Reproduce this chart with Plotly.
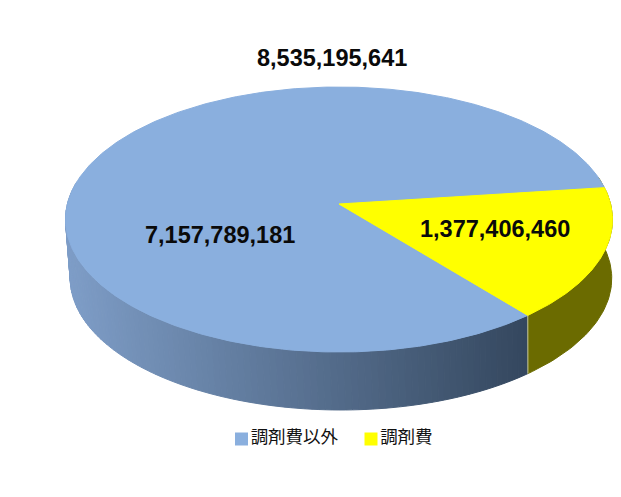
import numpy as np
import plotly.graph_objects as go

# Data
categories = ["調剤費以外", "調剤費"]
values = [7157789181, 1377406460]
colors_top = ["#8AAFDE", "#FFFF00"]
color_yellow_side = "#6B6B00"
total = sum(values)

# Perspective model of the tilted disc (pixel canvas)
APEX_X, APEX_Y = 339, 204
PERSP, SCALE_Y, SCALE_X = 0.117, 130.7, 271.6
DEPTH, BOTTOM_X, BOTTOM_Y, BOTTOM_SHIFT = 59, 0.99, 0.993, 2
START_DEG = 7.3  # yellow slice starts here and runs clockwise


def project(theta_deg, bottom=False):
    t = np.radians(theta_deg)
    u, v = np.cos(t), np.sin(t)
    w = 1 + PERSP * v
    x, y = SCALE_X * u / w, SCALE_Y * v / w
    if bottom:
        return APEX_X + BOTTOM_SHIFT + x * BOTTOM_X, APEX_Y + DEPTH - y * BOTTOM_Y
    return APEX_X + x, APEX_Y - y


def lerp_color(f):
    left, right = (126, 157, 199), (52, 71, 94)
    c = [round(a + (b - a) * f) for a, b in zip(left, right)]
    return f"rgb({c[0]},{c[1]},{c[2]})"


yellow_sweep = values[1] / total * 360
yellow_start = START_DEG
yellow_end = START_DEG - yellow_sweep  # clockwise

fig = go.Figure()


def poly(xs, ys, fill, line=None, width=1):
    fig.add_trace(go.Scatter(
        x=list(xs), y=list(ys), mode="lines", fill="toself", fillcolor=fill,
        line=dict(color=line or fill, width=width), hoverinfo="skip", showlegend=False))


# Side wall: visible front half, blue part shaded across the width
wall_angles = np.linspace(-190, yellow_end, 110)
x_min, x_max = project(180)[0], project(yellow_end)[0]
for a0, a1 in zip(wall_angles[:-1], wall_angles[1:]):
    x0, y0 = project(a0)
    x1, y1 = project(a1)
    x2, y2 = project(a1, True)
    x3, y3 = project(a0, True)
    f = np.clip((((x0 + x1) / 2) - x_min) / (x_max - x_min), 0, 1)
    poly([x0, x1, x2, x3, x0], [y0, y1, y2, y3, y0], lerp_color(f))

ys_ang = np.linspace(yellow_end, 12, 50)
tx, ty = project(ys_ang)
bx, by = project(ys_ang, True)
poly(np.r_[tx, bx[::-1]], np.r_[ty, by[::-1]], color_yellow_side)

# Light seam where the two wall colours meet
sx0, sy0 = project(yellow_end)
sx1, sy1 = project(yellow_end, True)
fig.add_trace(go.Scatter(x=[sx0, sx1], y=[sy0, sy1], mode="lines",
                         line=dict(color="#C9C99A", width=1), hoverinfo="skip", showlegend=False))

# Top face
blue_ang = np.linspace(yellow_start, yellow_start + values[0] / total * 360, 400)
bx_top, by_top = project(blue_ang)
poly(np.r_[APEX_X, bx_top, APEX_X], np.r_[APEX_Y, by_top, APEX_Y], colors_top[0])

yel_ang = np.linspace(yellow_end, yellow_start, 100)
yx_top, yy_top = project(yel_ang)
poly(np.r_[APEX_X, yx_top, APEX_X], np.r_[APEX_Y, yy_top, APEX_Y], colors_top[1])

# Legend entries
legend_x = [241.5, 371]
LEGEND_Y = 439
for name, col, lx in zip(categories, colors_top, legend_x):
    fig.add_trace(go.Scatter(
        x=[lx], y=[LEGEND_Y], mode="markers+text", text=[name], textposition="middle right",
        textfont=dict(family="Noto Sans CJK JP, sans-serif", size=17.5, color="#111111"),
        marker=dict(symbol="square", size=13, color=col), hoverinfo="skip", showlegend=False))

LABEL_FONT = dict(family="Liberation Sans, sans-serif", size=23.5, color="#0A0A0A")
annotations = [
    dict(x=332, y=58, text=f"<b>{total:,}</b>"),
    dict(x=220, y=235, text=f"<b>{values[0]:,}</b>"),
    dict(x=494.5, y=229, text=f"<b>{values[1]:,}</b>"),
]
for a in annotations:
    a.update(xref="x", yref="y", showarrow=False, font=LABEL_FONT)

fig.update_layout(
    width=621, height=497, autosize=False,
    margin=dict(l=0, r=0, t=0, b=0),
    paper_bgcolor="white", plot_bgcolor="white",
    xaxis=dict(range=[0, 621], visible=False, fixedrange=True),
    yaxis=dict(range=[497, 0], visible=False, fixedrange=True),
    annotations=annotations,
    showlegend=False,
)

fig.write_html("out.html", config=dict(displayModeBar=False),
               post_script="document.body.style.margin='0';document.body.style.overflow='hidden';")
